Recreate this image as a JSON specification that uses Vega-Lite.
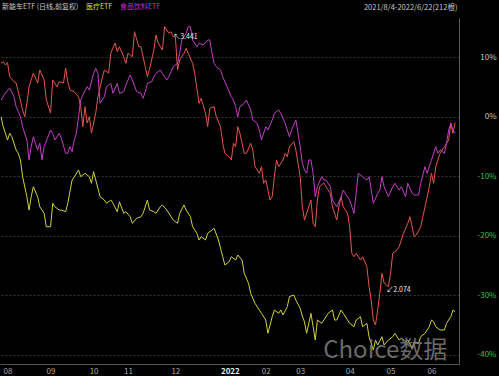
{
"$schema": "https://vega.github.io/schema/vega-lite/v6.json",
"width": 459, "height": 346,
"autosize": {"type": "none"},
"padding": {"left": 0, "top": 18, "right": 40, "bottom": 12},
"background": "#000000",
"config": {"view": {"stroke": null}, "font": "Noto Sans CJK SC"},
"datasets": {
"lines": [
{"etf":"新能车ETF","day":0,"pct":9.0},{"etf":"新能车ETF","day":1,"pct":9.24},{"etf":"新能车ETF","day":2,"pct":8.69},{"etf":"新能车ETF","day":3,"pct":9.08},{"etf":"新能车ETF","day":4,"pct":6.72},{"etf":"新能车ETF","day":6,"pct":5.88},{"etf":"新能车ETF","day":7,"pct":5.66},{"etf":"新能车ETF","day":8,"pct":4.2},{"etf":"新能车ETF","day":10,"pct":1.13},{"etf":"新能车ETF","day":11,"pct":0.0},{"etf":"新能车ETF","day":12,"pct":2.3},{"etf":"新能车ETF","day":13,"pct":5.04},{"etf":"新能车ETF","day":15,"pct":7.34},{"etf":"新能车ETF","day":17,"pct":5.66},{"etf":"新能车ETF","day":18,"pct":7.85},{"etf":"新能车ETF","day":20,"pct":6.17},{"etf":"新能车ETF","day":21,"pct":2.82},{"etf":"新能车ETF","day":23,"pct":0.62},{"etf":"新能车ETF","day":24,"pct":6.17},{"etf":"新能车ETF","day":26,"pct":5.04},{"etf":"新能车ETF","day":27,"pct":5.88},{"etf":"新能车ETF","day":29,"pct":5.66},{"etf":"新能车ETF","day":30,"pct":8.18},{"etf":"新能车ETF","day":31,"pct":5.88},{"etf":"新能车ETF","day":32,"pct":4.49},{"etf":"新能车ETF","day":34,"pct":4.2},{"etf":"新能车ETF","day":36,"pct":3.36},{"etf":"新能车ETF","day":37,"pct":1.68},{"etf":"新能车ETF","day":38,"pct":-1.68},{"etf":"新能车ETF","day":39,"pct":1.68},{"etf":"新能车ETF","day":40,"pct":-1.06},{"etf":"新能车ETF","day":41,"pct":0},{"etf":"新能车ETF","day":42,"pct":-2.74},{"etf":"新能车ETF","day":44,"pct":0.62},{"etf":"新能车ETF","day":45,"pct":3.36},{"etf":"新能车ETF","day":47,"pct":6.5},{"etf":"新能车ETF","day":48,"pct":7.85},{"etf":"新能车ETF","day":50,"pct":7.34},{"etf":"新能车ETF","day":51,"pct":10.71},{"etf":"新能车ETF","day":53,"pct":12.39},{"etf":"新能车ETF","day":54,"pct":10.92},{"etf":"新能车ETF","day":55,"pct":11.76},{"etf":"新能车ETF","day":57,"pct":10.08},{"etf":"新能车ETF","day":58,"pct":8.97},{"etf":"新能车ETF","day":59,"pct":10.71},{"etf":"新能车ETF","day":61,"pct":10.08},{"etf":"新能车ETF","day":62,"pct":14.29},{"etf":"新能车ETF","day":64,"pct":11.76},{"etf":"新能车ETF","day":65,"pct":11.76},{"etf":"新能车ETF","day":67,"pct":8.4},{"etf":"新能车ETF","day":68,"pct":6.72},{"etf":"新能车ETF","day":69,"pct":8.0},{"etf":"新能车ETF","day":71,"pct":11.21},{"etf":"新能车ETF","day":72,"pct":13.73},{"etf":"新能车ETF","day":73,"pct":12.39},{"etf":"新能车ETF","day":75,"pct":11.21},{"etf":"新能车ETF","day":76,"pct":15.13},{"etf":"新能车ETF","day":78,"pct":14.02},{"etf":"新能车ETF","day":79,"pct":14.29},{"etf":"新能车ETF","day":80,"pct":13.45},{"etf":"新能车ETF","day":81,"pct":13.45},{"etf":"新能车ETF","day":82,"pct":7.85},{"etf":"新能车ETF","day":83,"pct":9.53},{"etf":"新能车ETF","day":85,"pct":10.66},{"etf":"新能车ETF","day":86,"pct":11.5},{"etf":"新能车ETF","day":87,"pct":10.66},{"etf":"新能车ETF","day":89,"pct":8.97},{"etf":"新能车ETF","day":90,"pct":7.29},{"etf":"新能车ETF","day":92,"pct":2.25},{"etf":"新能车ETF","day":93,"pct":3.09},{"etf":"新能车ETF","day":95,"pct":0.57},{"etf":"新能车ETF","day":96,"pct":-1.68},{"etf":"新能车ETF","day":97,"pct":1.41},{"etf":"新能车ETF","day":99,"pct":1.68},{"etf":"新能车ETF","day":100,"pct":0},{"etf":"新能车ETF","day":102,"pct":-1.68},{"etf":"新能车ETF","day":103,"pct":-4.47},{"etf":"新能车ETF","day":104,"pct":-6.15},{"etf":"新能车ETF","day":106,"pct":-6.77},{"etf":"新能车ETF","day":107,"pct":-7.28},{"etf":"新能车ETF","day":108,"pct":-4.47},{"etf":"新能车ETF","day":109,"pct":-5.04},{"etf":"新能车ETF","day":110,"pct":-1.68},{"etf":"新能车ETF","day":111,"pct":-2.79},{"etf":"新能车ETF","day":113,"pct":-6.15},{"etf":"新能车ETF","day":114,"pct":-6.15},{"etf":"新能车ETF","day":116,"pct":-4.47},{"etf":"新能车ETF","day":117,"pct":-5.6},{"etf":"新能车ETF","day":118,"pct":-8.4},{"etf":"新能车ETF","day":120,"pct":-9.51},{"etf":"新能车ETF","day":121,"pct":-8.4},{"etf":"新能车ETF","day":122,"pct":-11.19},{"etf":"新能车ETF","day":123,"pct":-10.64},{"etf":"新能车ETF","day":124,"pct":-12.32},{"etf":"新能车ETF","day":125,"pct":-14.0},{"etf":"新能车ETF","day":126,"pct":-13.45},{"etf":"新能车ETF","day":127,"pct":-10.08},{"etf":"新能车ETF","day":128,"pct":-7.28},{"etf":"新能车ETF","day":129,"pct":-8.4},{"etf":"新能车ETF","day":131,"pct":-7.28},{"etf":"新能车ETF","day":132,"pct":-6.15},{"etf":"新能车ETF","day":133,"pct":-6.72},{"etf":"新能车ETF","day":134,"pct":-5.04},{"etf":"新能车ETF","day":136,"pct":-4.2},{"etf":"新能车ETF","day":137,"pct":-5.6},{"etf":"新能车ETF","day":139,"pct":-10.08},{"etf":"新能车ETF","day":140,"pct":-15.13},{"etf":"新能车ETF","day":141,"pct":-17.36},{"etf":"新能车ETF","day":143,"pct":-15.13},{"etf":"新能车ETF","day":144,"pct":-14.0},{"etf":"新能车ETF","day":145,"pct":-17.87},{"etf":"新能车ETF","day":146,"pct":-18.49},{"etf":"新能车ETF","day":147,"pct":-14.0},{"etf":"新能车ETF","day":148,"pct":-11.76},{"etf":"新能车ETF","day":150,"pct":-11.14},{"etf":"新能车ETF","day":151,"pct":-11.76},{"etf":"新能车ETF","day":153,"pct":-12.87},{"etf":"新能车ETF","day":154,"pct":-15.13},{"etf":"新能车ETF","day":156,"pct":-17.36},{"etf":"新能车ETF","day":157,"pct":-15.13},{"etf":"新能车ETF","day":158,"pct":-13.45},{"etf":"新能车ETF","day":159,"pct":-15.13},{"etf":"新能车ETF","day":161,"pct":-16.24},{"etf":"新能车ETF","day":162,"pct":-18.49},{"etf":"新能车ETF","day":163,"pct":-22.96},{"etf":"新能车ETF","day":164,"pct":-23.53},{"etf":"新能车ETF","day":165,"pct":-22.96},{"etf":"新能车ETF","day":167,"pct":-24.08},{"etf":"新能车ETF","day":168,"pct":-23.53},{"etf":"新能车ETF","day":170,"pct":-25.21},{"etf":"新能车ETF","day":171,"pct":-28.57},{"etf":"新能车ETF","day":172,"pct":-30.81},{"etf":"新能车ETF","day":173,"pct":-34.17},{"etf":"新能车ETF","day":174,"pct":-35.0},{"etf":"新能车ETF","day":175,"pct":-32.49},{"etf":"新能车ETF","day":176,"pct":-29.68},{"etf":"新能车ETF","day":177,"pct":-26.32},{"etf":"新能车ETF","day":178,"pct":-27.95},{"etf":"新能车ETF","day":180,"pct":-28.57},{"etf":"新能车ETF","day":181,"pct":-26.32},{"etf":"新能车ETF","day":182,"pct":-22.96},{"etf":"新能车ETF","day":184,"pct":-22.4},{"etf":"新能车ETF","day":185,"pct":-21.85},{"etf":"新能车ETF","day":187,"pct":-19.6},{"etf":"新能车ETF","day":189,"pct":-17.92},{"etf":"新能车ETF","day":190,"pct":-16.81},{"etf":"新能车ETF","day":191,"pct":-18.49},{"etf":"新能车ETF","day":192,"pct":-20.17},{"etf":"新能车ETF","day":193,"pct":-19.88},{"etf":"新能车ETF","day":195,"pct":-18.49},{"etf":"新能车ETF","day":196,"pct":-16.81},{"etf":"新能车ETF","day":197,"pct":-15.13},{"etf":"新能车ETF","day":199,"pct":-11.76},{"etf":"新能车ETF","day":200,"pct":-9.51},{"etf":"新能车ETF","day":201,"pct":-11.19},{"etf":"新能车ETF","day":202,"pct":-8.4},{"etf":"新能车ETF","day":203,"pct":-7.28},{"etf":"新能车ETF","day":204,"pct":-6.15},{"etf":"新能车ETF","day":205,"pct":-5.6},{"etf":"新能车ETF","day":206,"pct":-5.04},{"etf":"新能车ETF","day":208,"pct":-3.92},{"etf":"新能车ETF","day":209,"pct":-1.11},{"etf":"新能车ETF","day":210,"pct":-2.79},{"etf":"新能车ETF","day":211,"pct":-1.0},
{"etf":"食品饮料ETF","day":0,"pct":2.81},{"etf":"食品饮料ETF","day":2,"pct":3.98},{"etf":"食品饮料ETF","day":4,"pct":4.82},{"etf":"食品饮料ETF","day":6,"pct":3.36},{"etf":"食品饮料ETF","day":7,"pct":1.68},{"etf":"食品饮料ETF","day":9,"pct":0},{"etf":"食品饮料ETF","day":10,"pct":-1.68},{"etf":"食品饮料ETF","day":12,"pct":-3.92},{"etf":"食品饮料ETF","day":13,"pct":-7.28},{"etf":"食品饮料ETF","day":14,"pct":-5.04},{"etf":"食品饮料ETF","day":15,"pct":-3.36},{"etf":"食品饮料ETF","day":17,"pct":-5.6},{"etf":"食品饮料ETF","day":18,"pct":-4.47},{"etf":"食品饮料ETF","day":19,"pct":-7.28},{"etf":"食品饮料ETF","day":20,"pct":-5.04},{"etf":"食品饮料ETF","day":23,"pct":-2.24},{"etf":"食品饮料ETF","day":24,"pct":-2.79},{"etf":"食品饮料ETF","day":25,"pct":-3.92},{"etf":"食品饮料ETF","day":27,"pct":-2.79},{"etf":"食品饮料ETF","day":28,"pct":-3.63},{"etf":"食品饮料ETF","day":30,"pct":-6.15},{"etf":"食品饮料ETF","day":31,"pct":-6.15},{"etf":"食品饮料ETF","day":32,"pct":-5.04},{"etf":"食品饮料ETF","day":33,"pct":-5.88},{"etf":"食品饮料ETF","day":34,"pct":-3.92},{"etf":"食品饮料ETF","day":35,"pct":-2.79},{"etf":"食品饮料ETF","day":36,"pct":0},{"etf":"食品饮料ETF","day":37,"pct":2.82},{"etf":"食品饮料ETF","day":38,"pct":3.65},{"etf":"食品饮料ETF","day":40,"pct":5.04},{"etf":"食品饮料ETF","day":41,"pct":4.49},{"etf":"食品饮料ETF","day":43,"pct":7.29},{"etf":"食品饮料ETF","day":44,"pct":8.13},{"etf":"食品饮料ETF","day":45,"pct":7.29},{"etf":"食品饮料ETF","day":46,"pct":2.25},{"etf":"食品饮料ETF","day":48,"pct":3.36},{"etf":"食品饮料ETF","day":49,"pct":5.04},{"etf":"食品饮料ETF","day":51,"pct":5.61},{"etf":"食品饮料ETF","day":52,"pct":3.93},{"etf":"食品饮料ETF","day":54,"pct":5.61},{"etf":"食品饮料ETF","day":55,"pct":3.93},{"etf":"食品饮料ETF","day":57,"pct":4.2},{"etf":"食品饮料ETF","day":58,"pct":5.33},{"etf":"食品饮料ETF","day":60,"pct":7.01},{"etf":"食品饮料ETF","day":61,"pct":6.17},{"etf":"食品饮料ETF","day":63,"pct":4.2},{"etf":"食品饮料ETF","day":65,"pct":3.93},{"etf":"食品饮料ETF","day":66,"pct":3.09},{"etf":"食品饮料ETF","day":67,"pct":4.2},{"etf":"食品饮料ETF","day":68,"pct":5.61},{"etf":"食品饮料ETF","day":70,"pct":5.88},{"etf":"食品饮料ETF","day":71,"pct":6.72},{"etf":"食品饮料ETF","day":72,"pct":7.29},{"etf":"食品饮料ETF","day":74,"pct":7.85},{"etf":"食品饮料ETF","day":75,"pct":7.29},{"etf":"食品饮料ETF","day":77,"pct":6.17},{"etf":"食品饮料ETF","day":78,"pct":6.72},{"etf":"食品饮料ETF","day":80,"pct":8.4},{"etf":"食品饮料ETF","day":82,"pct":8.97},{"etf":"食品饮料ETF","day":83,"pct":10.66},{"etf":"食品饮料ETF","day":84,"pct":12.89},{"etf":"食品饮料ETF","day":86,"pct":14.02},{"etf":"食品饮料ETF","day":87,"pct":15.13},{"etf":"食品饮料ETF","day":88,"pct":15.13},{"etf":"食品饮料ETF","day":89,"pct":12.89},{"etf":"食品饮料ETF","day":91,"pct":11.76},{"etf":"食品饮料ETF","day":92,"pct":12.34},{"etf":"食品饮料ETF","day":94,"pct":12.05},{"etf":"食品饮料ETF","day":96,"pct":12.89},{"etf":"食品饮料ETF","day":97,"pct":12.89},{"etf":"食品饮料ETF","day":98,"pct":10.66},{"etf":"食品饮料ETF","day":99,"pct":8.97},{"etf":"食品饮料ETF","day":100,"pct":8.4},{"etf":"食品饮料ETF","day":102,"pct":7.85},{"etf":"食品饮料ETF","day":103,"pct":6.72},{"etf":"食品饮料ETF","day":105,"pct":5.04},{"etf":"食品饮料ETF","day":107,"pct":3.36},{"etf":"食品饮料ETF","day":108,"pct":2.81},{"etf":"食品饮料ETF","day":109,"pct":1.68},{"etf":"食品饮料ETF","day":110,"pct":0},{"etf":"食品饮料ETF","day":111,"pct":1.68},{"etf":"食品饮料ETF","day":113,"pct":2.25},{"etf":"食品饮料ETF","day":114,"pct":2.81},{"etf":"食品饮料ETF","day":116,"pct":1.13},{"etf":"食品饮料ETF","day":117,"pct":-0.55},{"etf":"食品饮料ETF","day":119,"pct":-1.11},{"etf":"食品饮料ETF","day":120,"pct":-2.24},{"etf":"食品饮料ETF","day":121,"pct":-3.92},{"etf":"食品饮料ETF","day":123,"pct":-1.68},{"etf":"食品饮料ETF","day":124,"pct":-2.24},{"etf":"食品饮料ETF","day":126,"pct":-0.55},{"etf":"食品饮料ETF","day":127,"pct":0.57},{"etf":"食品饮料ETF","day":129,"pct":1.13},{"etf":"食品饮料ETF","day":130,"pct":0.57},{"etf":"食品饮料ETF","day":132,"pct":-1.11},{"etf":"食品饮料ETF","day":134,"pct":-3.36},{"etf":"食品饮料ETF","day":135,"pct":-2.24},{"etf":"食品饮料ETF","day":137,"pct":-0.55},{"etf":"食品饮料ETF","day":138,"pct":-2.79},{"etf":"食品饮料ETF","day":139,"pct":-5.04},{"etf":"食品饮料ETF","day":140,"pct":-7.83},{"etf":"食品饮料ETF","day":141,"pct":-8.96},{"etf":"食品饮料ETF","day":142,"pct":-9.51},{"etf":"食品饮料ETF","day":143,"pct":-7.28},{"etf":"食品饮料ETF","day":144,"pct":-7.28},{"etf":"食品饮料ETF","day":145,"pct":-9.51},{"etf":"食品饮料ETF","day":146,"pct":-13.45},{"etf":"食品饮料ETF","day":147,"pct":-11.76},{"etf":"食品饮料ETF","day":149,"pct":-10.08},{"etf":"食品饮料ETF","day":150,"pct":-10.64},{"etf":"食品饮料ETF","day":151,"pct":-10.64},{"etf":"食品饮料ETF","day":153,"pct":-11.76},{"etf":"食品饮料ETF","day":154,"pct":-14.0},{"etf":"食品饮料ETF","day":156,"pct":-15.13},{"etf":"食品饮料ETF","day":158,"pct":-13.45},{"etf":"食品饮料ETF","day":159,"pct":-12.32},{"etf":"食品饮料ETF","day":161,"pct":-13.45},{"etf":"食品饮料ETF","day":162,"pct":-14.0},{"etf":"食品饮料ETF","day":164,"pct":-16.24},{"etf":"食品饮料ETF","day":165,"pct":-12.87},{"etf":"食品饮料ETF","day":166,"pct":-9.51},{"etf":"食品饮料ETF","day":168,"pct":-10.08},{"etf":"食品饮料ETF","day":170,"pct":-10.64},{"etf":"食品饮料ETF","day":171,"pct":-10.08},{"etf":"食品饮料ETF","day":173,"pct":-14.55},{"etf":"食品饮料ETF","day":175,"pct":-12.87},{"etf":"食品饮料ETF","day":176,"pct":-12.32},{"etf":"食品饮料ETF","day":177,"pct":-10.08},{"etf":"食品饮料ETF","day":178,"pct":-11.76},{"etf":"食品饮料ETF","day":180,"pct":-13.45},{"etf":"食品饮料ETF","day":182,"pct":-11.76},{"etf":"食品饮料ETF","day":183,"pct":-11.19},{"etf":"食品饮料ETF","day":185,"pct":-12.32},{"etf":"食品饮料ETF","day":186,"pct":-11.76},{"etf":"食品饮料ETF","day":188,"pct":-13.45},{"etf":"食品饮料ETF","day":189,"pct":-11.19},{"etf":"食品饮料ETF","day":191,"pct":-12.87},{"etf":"食品饮料ETF","day":192,"pct":-13.16},{"etf":"食品饮料ETF","day":194,"pct":-13.16},{"etf":"食品饮料ETF","day":195,"pct":-11.19},{"etf":"食品饮料ETF","day":197,"pct":-8.4},{"etf":"食品饮料ETF","day":198,"pct":-9.51},{"etf":"食品饮料ETF","day":200,"pct":-7.28},{"etf":"食品饮料ETF","day":202,"pct":-5.04},{"etf":"食品饮料ETF","day":203,"pct":-6.15},{"etf":"食品饮料ETF","day":204,"pct":-5.6},{"etf":"食品饮料ETF","day":206,"pct":-6.15},{"etf":"食品饮料ETF","day":207,"pct":-4.47},{"etf":"食品饮料ETF","day":208,"pct":-2.24},{"etf":"食品饮料ETF","day":209,"pct":-1.11},{"etf":"食品饮料ETF","day":210,"pct":-2.24},{"etf":"食品饮料ETF","day":211,"pct":-2.79},
{"etf":"医疗ETF","day":0,"pct":0},{"etf":"医疗ETF","day":1,"pct":-1.68},{"etf":"医疗ETF","day":3,"pct":-3.92},{"etf":"医疗ETF","day":4,"pct":-2.79},{"etf":"医疗ETF","day":5,"pct":-3.36},{"etf":"医疗ETF","day":7,"pct":-5.6},{"etf":"医疗ETF","day":8,"pct":-6.15},{"etf":"医疗ETF","day":9,"pct":-7.28},{"etf":"医疗ETF","day":10,"pct":-10.08},{"etf":"医疗ETF","day":12,"pct":-13.45},{"etf":"医疗ETF","day":13,"pct":-15.68},{"etf":"医疗ETF","day":14,"pct":-13.45},{"etf":"医疗ETF","day":15,"pct":-11.76},{"etf":"医疗ETF","day":17,"pct":-13.45},{"etf":"医疗ETF","day":18,"pct":-15.13},{"etf":"医疗ETF","day":20,"pct":-16.24},{"etf":"医疗ETF","day":21,"pct":-18.49},{"etf":"医疗ETF","day":23,"pct":-18.49},{"etf":"医疗ETF","day":24,"pct":-14.55},{"etf":"医疗ETF","day":25,"pct":-15.13},{"etf":"医疗ETF","day":27,"pct":-15.68},{"etf":"医疗ETF","day":28,"pct":-15.68},{"etf":"医疗ETF","day":30,"pct":-15.97},{"etf":"医疗ETF","day":31,"pct":-14.55},{"etf":"医疗ETF","day":33,"pct":-10.64},{"etf":"医疗ETF","day":34,"pct":-10.13},{"etf":"医疗ETF","day":36,"pct":-8.96},{"etf":"医疗ETF","day":37,"pct":-10.08},{"etf":"医疗ETF","day":39,"pct":-9.51},{"etf":"医疗ETF","day":41,"pct":-10.08},{"etf":"医疗ETF","day":42,"pct":-11.19},{"etf":"医疗ETF","day":43,"pct":-9.24},{"etf":"医疗ETF","day":44,"pct":-10.64},{"etf":"医疗ETF","day":46,"pct":-13.45},{"etf":"医疗ETF","day":48,"pct":-14.0},{"etf":"医疗ETF","day":49,"pct":-14.55},{"etf":"医疗ETF","day":51,"pct":-14.0},{"etf":"医疗ETF","day":52,"pct":-14.55},{"etf":"医疗ETF","day":54,"pct":-15.97},{"etf":"医疗ETF","day":55,"pct":-14.29},{"etf":"医疗ETF","day":57,"pct":-16.24},{"etf":"医疗ETF","day":58,"pct":-15.97},{"etf":"医疗ETF","day":60,"pct":-16.81},{"etf":"医疗ETF","day":61,"pct":-17.92},{"etf":"医疗ETF","day":63,"pct":-17.08},{"etf":"医疗ETF","day":65,"pct":-16.81},{"etf":"医疗ETF","day":66,"pct":-16.24},{"etf":"医疗ETF","day":68,"pct":-14.0},{"etf":"医疗ETF","day":69,"pct":-15.68},{"etf":"医疗ETF","day":71,"pct":-15.97},{"etf":"医疗ETF","day":72,"pct":-16.24},{"etf":"医疗ETF","day":74,"pct":-15.13},{"etf":"医疗ETF","day":75,"pct":-14.84},{"etf":"医疗ETF","day":77,"pct":-15.68},{"etf":"医疗ETF","day":78,"pct":-16.24},{"etf":"医疗ETF","day":80,"pct":-17.36},{"etf":"医疗ETF","day":82,"pct":-17.92},{"etf":"医疗ETF","day":83,"pct":-16.24},{"etf":"医疗ETF","day":85,"pct":-14.84},{"etf":"医疗ETF","day":86,"pct":-15.68},{"etf":"医疗ETF","day":88,"pct":-16.81},{"etf":"医疗ETF","day":89,"pct":-18.49},{"etf":"医疗ETF","day":91,"pct":-19.6},{"etf":"医疗ETF","day":92,"pct":-20.72},{"etf":"医疗ETF","day":93,"pct":-20.17},{"etf":"医疗ETF","day":95,"pct":-20.72},{"etf":"医疗ETF","day":96,"pct":-19.6},{"etf":"医疗ETF","day":98,"pct":-19.04},{"etf":"医疗ETF","day":99,"pct":-18.76},{"etf":"医疗ETF","day":101,"pct":-20.72},{"etf":"医疗ETF","day":103,"pct":-23.53},{"etf":"医疗ETF","day":104,"pct":-24.92},{"etf":"医疗ETF","day":106,"pct":-24.36},{"etf":"医疗ETF","day":107,"pct":-23.53},{"etf":"医疗ETF","day":109,"pct":-24.08},{"etf":"医疗ETF","day":110,"pct":-23.24},{"etf":"医疗ETF","day":112,"pct":-24.08},{"etf":"医疗ETF","day":113,"pct":-26.32},{"etf":"医疗ETF","day":115,"pct":-28.0},{"etf":"医疗ETF","day":116,"pct":-29.68},{"etf":"医疗ETF","day":118,"pct":-31.36},{"etf":"医疗ETF","day":120,"pct":-32.49},{"etf":"医疗ETF","day":121,"pct":-33.04},{"etf":"医疗ETF","day":123,"pct":-34.17},{"etf":"医疗ETF","day":124,"pct":-36.4},{"etf":"医疗ETF","day":126,"pct":-33.61},{"etf":"医疗ETF","day":127,"pct":-32.49},{"etf":"医疗ETF","day":129,"pct":-33.04},{"etf":"医疗ETF","day":130,"pct":-32.49},{"etf":"医疗ETF","day":131,"pct":-33.33},{"etf":"医疗ETF","day":133,"pct":-31.93},{"etf":"医疗ETF","day":134,"pct":-30.25},{"etf":"医疗ETF","day":136,"pct":-29.97},{"etf":"医疗ETF","day":137,"pct":-30.81},{"etf":"医疗ETF","day":139,"pct":-32.2},{"etf":"医疗ETF","day":140,"pct":-33.5},{"etf":"医疗ETF","day":141,"pct":-34.5},{"etf":"医疗ETF","day":142,"pct":-36.4},{"etf":"医疗ETF","day":144,"pct":-33.04},{"etf":"医疗ETF","day":145,"pct":-35.29},{"etf":"医疗ETF","day":146,"pct":-37.53},{"etf":"医疗ETF","day":147,"pct":-34.17},{"etf":"医疗ETF","day":149,"pct":-34.72},{"etf":"医疗ETF","day":150,"pct":-34.17},{"etf":"医疗ETF","day":152,"pct":-33.04},{"etf":"医疗ETF","day":154,"pct":-32.49},{"etf":"医疗ETF","day":155,"pct":-34.17},{"etf":"医疗ETF","day":156,"pct":-34.17},{"etf":"医疗ETF","day":158,"pct":-32.49},{"etf":"医疗ETF","day":159,"pct":-33.04},{"etf":"医疗ETF","day":161,"pct":-34.17},{"etf":"医疗ETF","day":162,"pct":-34.72},{"etf":"医疗ETF","day":164,"pct":-35.29},{"etf":"医疗ETF","day":165,"pct":-34.17},{"etf":"医疗ETF","day":167,"pct":-33.61},{"etf":"医疗ETF","day":168,"pct":-35.29},{"etf":"医疗ETF","day":170,"pct":-34.72},{"etf":"医疗ETF","day":171,"pct":-36.97},{"etf":"医疗ETF","day":173,"pct":-39.21},{"etf":"医疗ETF","day":174,"pct":-37.53},{"etf":"医疗ETF","day":175,"pct":-38.37},{"etf":"医疗ETF","day":177,"pct":-36.97},{"etf":"医疗ETF","day":178,"pct":-38.37},{"etf":"医疗ETF","day":180,"pct":-37.53},{"etf":"医疗ETF","day":182,"pct":-36.97},{"etf":"医疗ETF","day":183,"pct":-36.4},{"etf":"医疗ETF","day":185,"pct":-37.53},{"etf":"医疗ETF","day":186,"pct":-37.24},{"etf":"医疗ETF","day":188,"pct":-37.82},{"etf":"医疗ETF","day":189,"pct":-37.53},{"etf":"医疗ETF","day":191,"pct":-38.92},{"etf":"医疗ETF","day":192,"pct":-37.82},{"etf":"医疗ETF","day":194,"pct":-38.08},{"etf":"医疗ETF","day":195,"pct":-36.97},{"etf":"医疗ETF","day":197,"pct":-36.4},{"etf":"医疗ETF","day":199,"pct":-35.29},{"etf":"医疗ETF","day":200,"pct":-34.17},{"etf":"医疗ETF","day":201,"pct":-34.45},{"etf":"医疗ETF","day":202,"pct":-35.29},{"etf":"医疗ETF","day":204,"pct":-35.85},{"etf":"医疗ETF","day":206,"pct":-35.85},{"etf":"医疗ETF","day":207,"pct":-34.72},{"etf":"医疗ETF","day":209,"pct":-33.61},{"etf":"医疗ETF","day":210,"pct":-32.49},{"etf":"医疗ETF","day":211,"pct":-32.77}
],
"notes": [{"day": 80, "pct": 13.45, "label": "↖3.441"}, {"day": 179, "pct": -29.2, "label": "↙2.074"}],
"brand": [{"day": 178.5, "pct": -39.3, "label": "Choice数据"}]
},
"layer": [
{
"data": {"name": "lines"},
"mark": {"type": "line", "strokeWidth": 1},
"encoding": {
"x": {"field": "day", "type": "quantitative",
"scale": {"domain": [-0.5, 212.8], "nice": false, "zero": false},
"axis": {"orient": "bottom", "title": null, "values": [0,20,40,56,78,101,120,136,159,178,197],
"labelExpr": "['08','09','10','11','12','2022','02','03','04','05','06'][indexof([0,20,40,56,78,101,120,136,159,178,197], datum.value)]",
"ticks": false, "grid": false, "domainColor": "#555555",
"labelColor": {"condition": {"test": "datum.value == 101", "value": "#eeeeee"}, "value": "#a8a8a8"},
"labelFontWeight": {"condition": {"test": "datum.value == 101", "value": "bold"}, "value": "normal"},
"labelAlign": "left", "labelOffset": 2, "labelPadding": 3, "labelFontSize": 8, "labelBaseline": "top",
"labelOverlap": false, "labelBound": false, "labelFlush": false}},
"y": {"field": "pct", "type": "quantitative",
"scale": {"domain": [-41.56, 16.59], "nice": false, "zero": false},
"axis": {"orient": "right", "title": null, "values": [10,0,-10,-20,-30,-40],
"labelExpr": "datum.value + '%'", "ticks": false,
"grid": true, "gridColor": "#363636", "gridDash": [2,2], "domainColor": "#5a5a5a",
"labelAlign": "right", "labelPadding": 37, "labelFontSize": 8, "labelBaseline": "middle",
"labelColor": {"condition": {"test": "datum.value < 0", "value": "#2fc04f"}, "value": "#c8c8c8"}}},
"color": {"field": "etf", "type": "nominal",
"scale": {"domain": ["新能车ETF", "医疗ETF", "食品饮料ETF"], "range": ["#e0584c", "#d2d23a", "#c23fc6"]},
"legend": {"orient": "none", "legendX": -5, "legendY": -15, "direction": "horizontal", "title": null,
"values": ["新能车ETF", "医疗ETF", "食品饮料ETF"],
"labelExpr": "datum.value == '新能车ETF' ? '新能车ETF (日线,前复权)' : datum.value",
"labelColor": {"expr": "datum.value == '医疗ETF' ? '#e2e23c' : datum.value == '食品饮料ETF' ? '#d22ed2' : '#c8c8c8'"},
"symbolSize": 0, "symbolOpacity": 0, "symbolStrokeWidth": 0, "labelOffset": 0, "columnPadding": -6,
"labelFontSize": 7, "labelFont": "Noto Sans CJK SC", "padding": 0}}
}
},
{
"data": {"name": "notes"},
"mark": {"type": "text", "align": "left", "baseline": "middle", "fontSize": 7, "color": "#e8e8e8", "dx": 0},
"encoding": {
"x": {"field": "day", "type": "quantitative",
"axis": {"orient": "top", "title": "2021/8/4-2022/6/22(212根)", "labels": false, "ticks": false, "domain": false, "grid": false,
"titleX": 457, "titleY": -11, "titleAlign": "right", "titleBaseline": "middle", "titleFontSize": 7.5,
"titleFontWeight": "normal", "titleColor": "#c8c8c8", "titleFont": "Noto Sans CJK SC"}},
"y": {"field": "pct", "type": "quantitative"},
"text": {"field": "label"}
}
},
{
"data": {"name": "brand"},
"mark": {"type": "text", "align": "center", "baseline": "middle", "fontSize": 24, "color": "#7c7c7c", "opacity": 0.85},
"encoding": {
"x": {"field": "day", "type": "quantitative", "axis": null},
"y": {"field": "pct", "type": "quantitative"},
"text": {"field": "label"}
}
}
],
"resolve": {"axis": {"x": "independent"}}
}
